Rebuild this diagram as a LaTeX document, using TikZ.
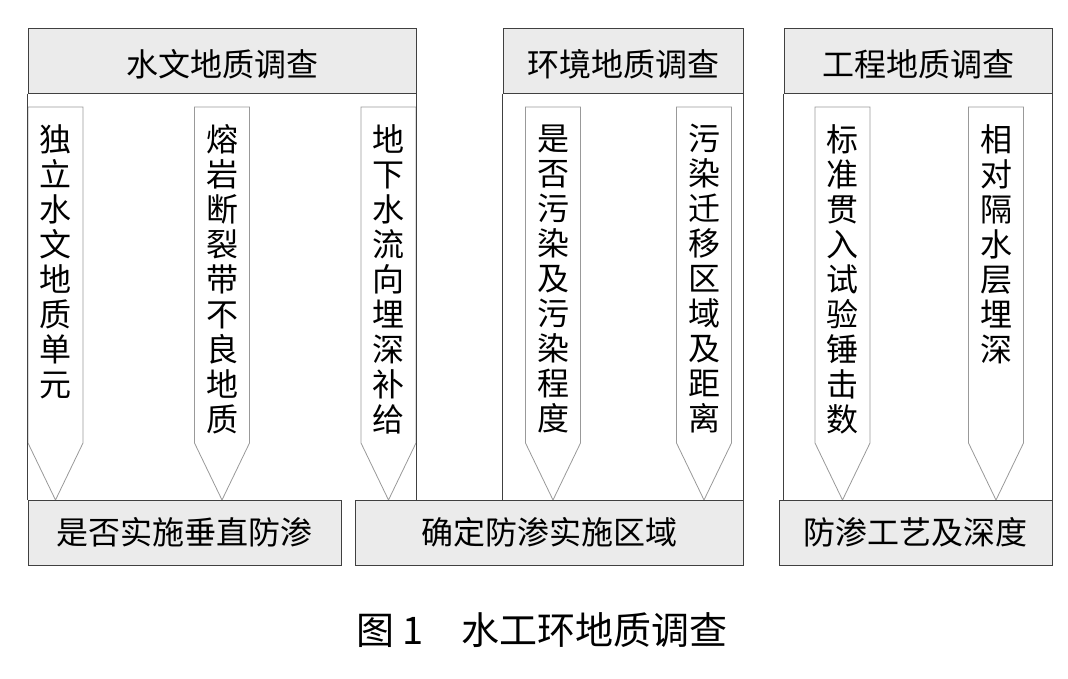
\documentclass[tikz,border=0pt]{standalone}
\usepackage{fontspec}
\setmainfont{Noto Sans CJK SC}
\usetikzlibrary{positioning,calc}

\begin{document}
\begin{tikzpicture}[x=1pt,y=-1pt,line width=1pt,
    head/.style={draw=black!75,fill=black!8,minimum height=65pt,inner sep=0pt,font=\fontsize{32}{34}\selectfont},
    top/.style={head,text height=32pt,text depth=0pt},
    pile/.style={draw=black!40,fill=white,line width=0.8pt},
    vtext/.style={anchor=north,align=center,inner sep=0pt,font=\fontsize{32}{35}\selectfont},
    frame/.style={draw=black!75}]
    \useasboundingbox (0,0) rectangle (1068,678);

    % headers
    \node[top,minimum width=388pt] (hydro) at (222,60.5) {水文地质调查};
    \node[top,minimum width=240pt] (envir) at (623,60.5) {环境地质调查};
    \node[top,minimum width=268pt] (engin) at (918,60.5) {工程地质调查};

    % piles with vertical text
    \foreach \x/\t/\n in {55.5/{独\\立\\水\\文\\地\\质\\单\\元}/pa,
                       222/{熔\\岩\\断\\裂\\带\\不\\良\\地\\质}/pb,
                       388.5/{地\\下\\水\\流\\向\\埋\\深\\补\\给}/pc,
                       553/{是\\否\\污\\染\\及\\污\\染\\程\\度}/pd,
                       704/{污\\染\\迁\\移\\区\\域\\及\\距\\离}/pe,
                       842.5/{标\\准\\贯\\入\\试\\验\\锤\\击\\数}/pf,
                       996/{相\\对\\隔\\水\\层\\埋\\深}/pg}{
        \draw[pile] (\x-27.5,107) -- (\x+27.5,107) -- (\x+27.5,443)
            -- (\x,500) -- (\x-27.5,443) -- cycle;
        \node[vtext] (\n) at (\x,124) {\t};
    }

    % bottom boxes
    \node[head,minimum width=313pt] (vert) at (184.5,532.5) {是否实施垂直防渗};
    \node[head,minimum width=388pt] (area) at (549,532.5) {确定防渗实施区域};
    \node[head,minimum width=273pt] (tech) at (915.5,532.5) {防渗工艺及深度};

    % group frames
    \draw[frame] (hydro.south west) -- (hydro.south west |- vert.north);
    \draw[frame] (hydro.south east) -- (hydro.south east |- vert.north);
    \draw[frame] (envir.south west) -- (envir.south west |- area.north);
    \draw[frame] (envir.south east) -- (envir.south east |- area.north);
    \draw[frame] (engin.south west) -- (engin.south west |- tech.north);
    \draw[frame] (engin.south east) -- (engin.south east |- tech.north);

    % caption
    \node[font=\fontsize{38}{40}\selectfont] (cap) at (542,630) {图 1\hspace{38pt}水工环地质调查};
\end{tikzpicture}
\end{document}
